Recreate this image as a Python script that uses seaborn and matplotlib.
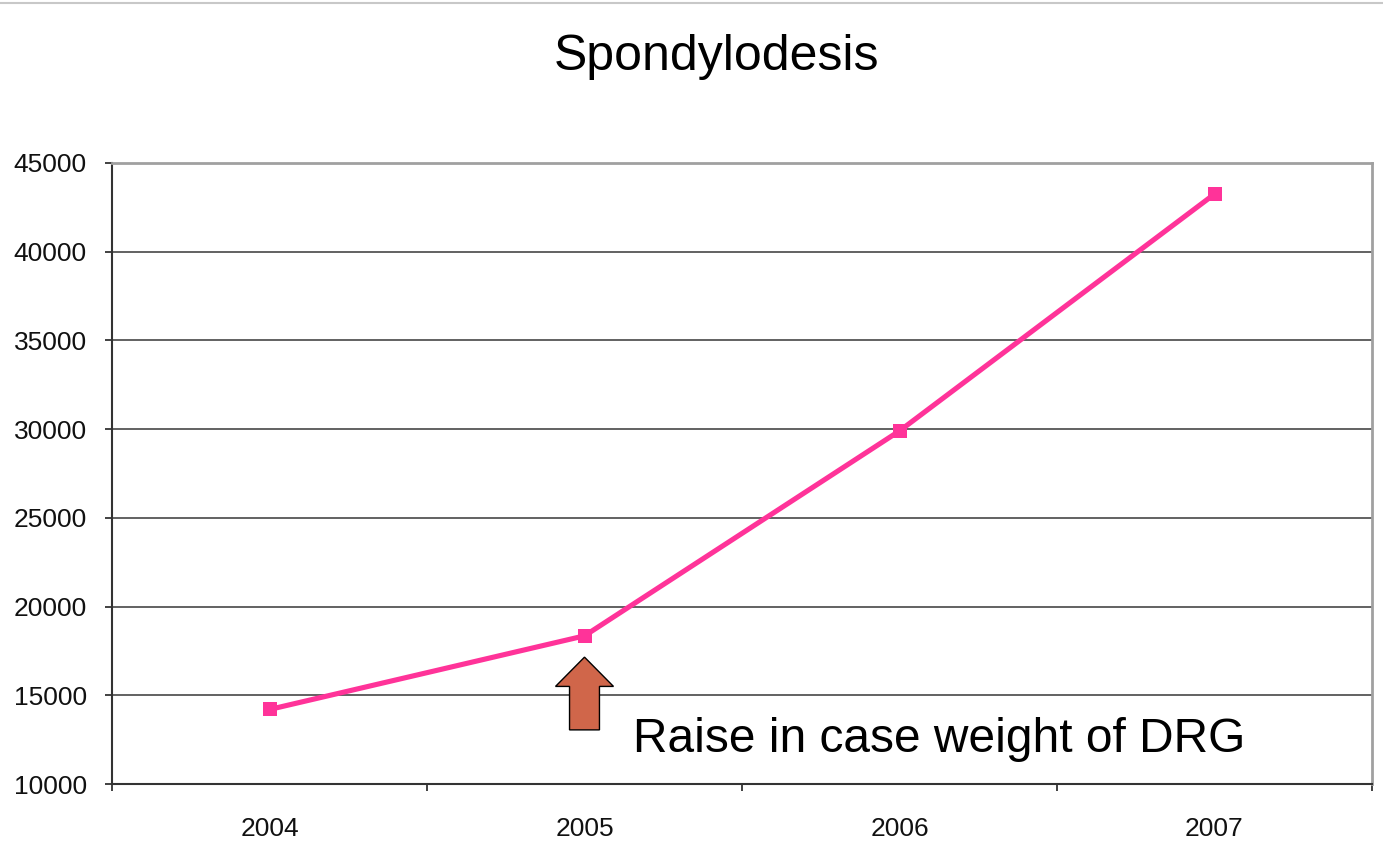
import matplotlib
matplotlib.use("Agg")
import matplotlib.pyplot as plt
from matplotlib.patches import FancyArrow
from matplotlib.lines import Line2D
from matplotlib.ticker import FixedLocator
import seaborn as sns
import pandas as pd

years = ["2004", "2005", "2006", "2007"]
cases = [14200, 18350, 29900, 43250]
y_ticks = [10000, 15000, 20000, 25000, 30000, 35000, 40000, 45000]
title = "Spondylodesis"
note = "Raise in case weight of DRG"

sns.set_theme(style="white")
plt.rcParams["font.family"] = ["Liberation Sans", "DejaVu Sans"]

df = pd.DataFrame({"year": years, "cases": cases})

fig = plt.figure(figsize=(13.83, 8.65), dpi=100)
ax = fig.add_axes([112 / 1383, 1 - 784 / 865, (1372 - 112) / 1383, (784 - 163) / 865])

for v in y_ticks[1:-1]:
    ax.axhline(v, color="#555555", lw=1.3, zorder=1)

sns.lineplot(data=df, x="year", y="cases", ax=ax, color="#FF3399",
             lw=3.7, marker="s", markersize=9.8, markeredgewidth=0,
             zorder=3, sort=False)

ax.set_xlim(-0.5, 3.5)
ax.set_ylim(10000, 45000)
ax.set_yticks(y_ticks)
ax.set_yticklabels([str(v) for v in y_ticks])
ax.set_xticks(range(len(years)))
ax.set_xticklabels(years)
ax.xaxis.set_minor_locator(FixedLocator([-0.5, 0.5, 1.5, 2.5, 3.5]))
ax.tick_params(axis="x", which="major", length=0, pad=24, labelsize=19, colors="#111111")
ax.tick_params(axis="x", which="minor", length=5, width=1.3, color="#333333", direction="out", bottom=True)
ax.tick_params(axis="y", which="major", length=5, width=1.3, color="#333333", pad=13,
               labelsize=19, labelcolor="#111111", direction="out", left=True)
ax.set_xlabel("")
ax.set_ylabel("")

for side in ("left", "bottom"):
    ax.spines[side].set_color("#333333")
    ax.spines[side].set_linewidth(1.5)
for side in ("top", "right"):
    ax.spines[side].set_color("#A0A0A0")
    ax.spines[side].set_linewidth(2)
    ax.spines[side].set_visible(True)

# upward arrow marking 2005
arrow = FancyArrow(1.0, 13050, 0, 4100, width=0.095, head_width=0.184,
                   head_length=1650, length_includes_head=True,
                   facecolor="#D0664A", edgecolor="black", linewidth=1.0, zorder=4)
ax.add_patch(arrow)
ax.text(1.154, 11800, note, fontsize=34.5, va="baseline", ha="left", color="black", zorder=5)

fig.text(716 / 1383, 1 - 57 / 865, title, fontsize=36, ha="center", va="center", color="black")

# thin rule along the top of the figure
fig.add_artist(Line2D([0, 1], [1 - 2.5 / 865, 1 - 2.5 / 865], transform=fig.transFigure,
                      color="#C8C8C8", lw=1.5))

fig.savefig("out.png", dpi=100, facecolor="white")
